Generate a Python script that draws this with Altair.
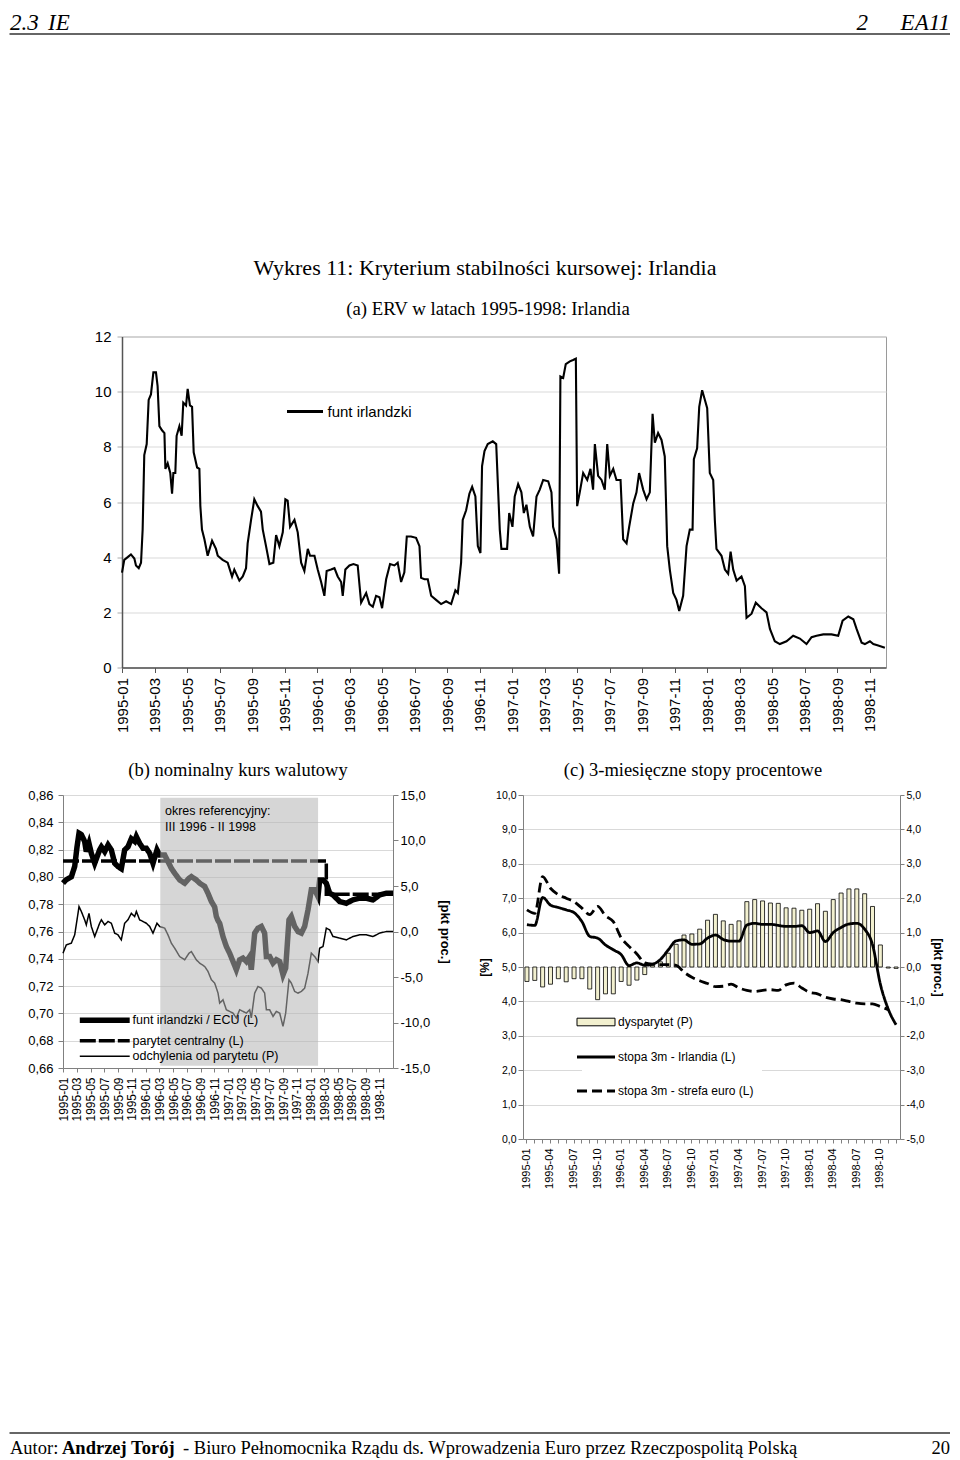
import altair as alt
import pandas as pd

SANS = "Liberation Sans"
NARROW = "'Liberation Sans Narrow', 'Liberation Sans'"
SERIF = "Liberation Serif"
AX = "#808080"
GRID = "#d9d9d9"

# ---------------- page texts ----------------
header_left = ["2.3", "IE"]
header_right = ["2", "EA11"]
main_title = "Wykres 11: Kryterium stabilności kursowej: Irlandia"
title_a = "(a) ERV w latach 1995-1998: Irlandia"
title_b = "(b) nominalny kurs walutowy"
title_c = "(c) 3-miesięczne stopy procentowe"
ref_note = ["okres referencyjny:", "III 1996 - II 1998"]
footer_parts = ["Autor:", "Andrzej Torój",
                "- Biuro Pełnomocnika Rządu ds. Wprowadzenia Euro przez Rzeczpospolitą Polską"]
page_no = "20"

# ---------------- tick labels ----------------
ab_tick_pos = [0, 2, 4, 6, 8, 10, 12, 14, 16, 18, 20, 22, 24, 26, 28, 30, 32, 34, 36, 38, 40, 42, 44, 46]
ab_tick_labels = ["1995-01", "1995-03", "1995-05", "1995-07", "1995-09", "1995-11",
                  "1996-01", "1996-03", "1996-05", "1996-07", "1996-09", "1996-11",
                  "1997-01", "1997-03", "1997-05", "1997-07", "1997-09", "1997-11",
                  "1998-01", "1998-03", "1998-05", "1998-07", "1998-09", "1998-11"]

# ---------------- (a) ERV, funt irlandzki ----------------
erv_t = [0.0, 0.14, 0.35, 0.55, 0.76, 0.86, 1.03, 1.17, 1.27, 1.37,
         1.52, 1.64, 1.78, 1.93, 2.09, 2.19, 2.3, 2.46, 2.61, 2.67,
         2.81, 2.97, 3.08, 3.16, 3.28, 3.36, 3.53, 3.67, 3.77, 3.94,
         4.04, 4.18, 4.31, 4.41, 4.62, 4.76, 4.82, 4.92, 5.07, 5.27,
         5.54, 5.78, 5.89, 6.19, 6.5, 6.77, 6.91, 7.22, 7.43, 7.63,
         7.73, 7.94, 8.14, 8.35, 8.55, 8.66, 8.86, 9.07, 9.31, 9.48,
         9.68, 9.89, 10.05, 10.19, 10.34, 10.61, 10.81, 11.02, 11.22, 11.43,
         11.57, 11.84, 12.04, 12.25, 12.45, 12.59, 12.86, 13.07, 13.27, 13.48,
         13.58, 13.74, 13.99, 14.24, 14.5, 14.71, 15.02, 15.22, 15.43, 15.63,
         15.84, 16.0, 16.25, 16.49, 16.76, 16.96, 17.17, 17.37, 17.52, 17.78,
         18.09, 18.3, 18.4, 18.61, 18.81, 19.02, 19.32, 19.63, 19.94, 20.25,
         20.51, 20.66, 20.86, 20.96, 21.17, 21.37, 21.54, 21.74, 21.89, 22.05,
         22.15, 22.3, 22.5, 22.81, 23.02, 23.24, 23.34, 23.69, 23.82, 24.02,
         24.16, 24.37, 24.57, 24.72, 24.88, 25.09, 25.29, 25.5, 25.7, 25.91,
         26.22, 26.42, 26.52, 26.73, 26.89, 26.97, 27.14, 27.3, 27.55, 27.75,
         27.92, 28.0, 28.16, 28.37, 28.62, 28.82, 28.98, 29.09, 29.29, 29.5,
         29.7, 29.85, 30.01, 30.22, 30.42, 30.67, 30.83, 31.04, 31.2, 31.45,
         31.65, 31.81, 32.06, 32.27, 32.47, 32.64, 32.78, 32.98, 33.19, 33.39,
         33.54, 33.7, 33.91, 34.11, 34.28, 34.52, 34.73, 34.93, 35.1, 35.18,
         35.38, 35.51, 35.69, 35.86, 36.0, 36.16, 36.37, 36.47, 36.57, 36.88,
         37.09, 37.29, 37.44, 37.6, 37.81, 38.11, 38.32, 38.42, 38.73, 38.99,
         39.34, 39.65, 39.86, 40.16, 40.47, 40.88, 41.29, 41.7, 42.11, 42.42,
         42.73, 43.14, 43.65, 44.06, 44.33, 44.68, 44.99, 45.19, 45.5, 45.7,
         46.01, 46.22, 46.52, 46.93]
erv_v = [3.44, 3.9, 4.0, 4.1, 3.95, 3.7, 3.6, 3.8, 5.0, 7.7,
         8.1, 9.7, 9.9, 10.7, 10.7, 10.2, 8.75, 8.6, 8.5, 7.2,
         7.4, 7.05, 6.3, 7.05, 7.05, 8.4, 8.75, 8.4, 9.6, 9.5,
         10.1, 9.5, 9.45, 7.8, 7.25, 7.2, 5.85, 5.0, 4.65, 4.05,
         4.6, 4.3, 4.05, 3.9, 3.8, 3.3, 3.55, 3.15, 3.3, 3.6,
         4.5, 5.35, 6.1, 5.85, 5.65, 5.0, 4.4, 3.75, 3.8, 4.8,
         4.4, 4.9, 6.1, 6.05, 5.1, 5.35, 4.9, 3.8, 3.5, 4.3,
         4.05, 4.05, 3.55, 3.1, 2.6, 3.5, 3.55, 3.6, 3.3, 3.1,
         2.6, 3.55, 3.7, 3.75, 3.7, 2.35, 2.7, 2.3, 2.2, 2.6,
         2.55, 2.15, 3.2, 3.75, 3.7, 3.8, 3.1, 3.45, 4.75, 4.75,
         4.7, 4.4, 3.25, 3.2, 3.2, 2.6, 2.45, 2.3, 2.4, 2.3,
         2.8, 2.7, 3.8, 5.35, 5.7, 6.3, 6.55, 6.2, 4.4, 4.15,
         7.3, 7.85, 8.1, 8.2, 8.1, 5.0, 4.3, 4.3, 5.6, 5.1,
         6.2, 6.65, 6.35, 5.6, 5.9, 5.1, 4.75, 6.2, 6.45, 6.8,
         6.75, 6.35, 5.1, 4.65, 3.4, 10.55, 10.5, 11.0, 11.1, 11.15,
         11.2, 5.85, 6.35, 7.05, 6.8, 7.2, 6.45, 8.1, 6.95, 6.8,
         6.45, 8.1, 6.95, 7.2, 6.8, 6.8, 4.65, 4.5, 5.1, 5.95,
         6.35, 7.05, 6.45, 6.1, 6.35, 9.2, 8.15, 8.5, 8.25, 7.65,
         4.4, 3.55, 2.7, 2.45, 2.05, 2.6, 4.4, 5.0, 5.0, 7.55,
         7.95, 9.45, 10.05, 9.7, 9.4, 7.05, 6.8, 5.35, 4.3, 4.05,
         3.55, 3.4, 4.2, 3.55, 3.15, 3.3, 2.95, 1.8, 1.95, 2.35,
         2.15, 2.0, 1.4, 0.95, 0.85, 0.95, 1.15, 1.05, 0.85, 1.1,
         1.15, 1.2, 1.2, 1.15, 1.7, 1.85, 1.75, 1.4, 0.9, 0.85,
         0.95, 0.85, 0.8, 0.72]

# ---------------- (b) nominal exchange rate ----------------
b_t = [0, 0.48, 1.21, 1.7, 2.04, 2.33, 2.67, 3.15, 3.39, 3.78,
       4.12, 4.61, 5.33, 5.58, 6.06, 6.55, 7.03, 7.52, 8.0, 8.48,
       8.97, 9.45, 9.94, 10.42, 10.67, 11.15, 11.64, 12.12, 12.61, 13.09,
       13.67, 14.06, 14.79, 15.27, 15.76, 16.24, 16.97, 17.7, 18.33, 18.67,
       19.39, 19.88, 20.61, 21.09, 21.58, 22.06, 22.3, 22.55, 22.79, 23.27,
       23.76, 24.24, 24.73, 25.21, 25.7, 26.18, 26.67, 27.15, 27.39, 27.88,
       28.36, 28.85, 29.33, 29.58, 30.06, 30.55, 31.03, 31.52, 32.0, 32.39,
       32.87, 33.21, 33.7, 34.18, 34.67, 35.15, 35.64, 36.12, 36.61, 37.09,
       37.33, 37.82, 38.3, 38.79, 39.27, 40.24, 41.21, 42.18, 43.15, 44.12,
       45.09, 46.06, 47.03, 48.0]
b_rate = [0.7954, 0.798, 0.800, 0.8076, 0.822, 0.832, 0.831, 0.826, 0.8185, 0.8246,
          0.8173, 0.810, 0.8198, 0.822, 0.8185, 0.8234, 0.8198, 0.810, 0.8076, 0.806,
          0.8198, 0.822, 0.828, 0.826, 0.8295, 0.8246, 0.821, 0.821, 0.8173, 0.810,
          0.8198, 0.816, 0.816, 0.8112, 0.8063, 0.8027, 0.7978, 0.7954, 0.799, 0.8002,
          0.7978, 0.7954, 0.793, 0.788, 0.782, 0.778, 0.771, 0.768, 0.766, 0.7563,
          0.749, 0.7441, 0.738, 0.732, 0.7393, 0.7405, 0.738, 0.7417, 0.732, 0.7588,
          0.7624, 0.7637, 0.7588, 0.7417, 0.7417, 0.7368, 0.7393, 0.738, 0.7283, 0.7332,
          0.7685, 0.771, 0.7637, 0.760, 0.7588, 0.7637, 0.7759, 0.7905, 0.7905, 0.7856,
          0.7978, 0.7978, 0.7954, 0.788, 0.7868, 0.782, 0.7807, 0.7832, 0.7844, 0.7844,
          0.7832, 0.7868, 0.788, 0.788]
b_dev = [-2.38, -1.47, -1.28, -0.37, 1.28, 2.74, 2.2, 1.28, 0.73, 2.0,
         0.55, -0.55, 0.91, 1.28, 0.73, 1.1, 0.91, -0.18, -0.37, -0.92,
         0.91, 1.28, 2.0, 1.64, 2.2, 1.28, 1.1, 0.91, 0.55, -0.18,
         0.91, 0.55, 0.37, -0.37, -1.28, -1.83, -2.75, -3.11, -2.38, -2.2,
         -3.11, -3.48, -3.84, -4.39, -5.3, -5.67, -6.2, -6.77, -7.87, -7.5,
         -8.6, -8.78, -8.97, -9.5, -8.6, -8.78, -8.97, -8.6, -9.5, -6.77,
         -6.04, -6.22, -6.77, -8.6, -8.6, -9.33, -8.78, -8.97, -10.43, -8.97,
         -5.3, -5.67, -6.59, -6.77, -6.59, -6.22, -4.58, -2.38, -2.75, -3.3,
         -1.83, -1.65, 0.37, 0.18, -0.55, -0.73, -0.92, -0.55, -0.37, -0.37,
         -0.55, -0.18, 0.0, 0.0]
parity_t = [0, 38.3, 38.3, 48]
parity_v = [0.8117, 0.8117, 0.7873, 0.7873]
ref_period = [14.15, 37.1]
b_series = ["funt irlandzki / ECU (L)", "parytet centralny (L)", "odchylenia od parytetu (P)"]

# ---------------- (c) 3-month interest rates ----------------
c_months = ["1995-01", "1995-02", "1995-03", "1995-04", "1995-05", "1995-06",
            "1995-07", "1995-08", "1995-09", "1995-10", "1995-11", "1995-12",
            "1996-01", "1996-02", "1996-03", "1996-04", "1996-05", "1996-06",
            "1996-07", "1996-08", "1996-09", "1996-10", "1996-11", "1996-12",
            "1997-01", "1997-02", "1997-03", "1997-04", "1997-05", "1997-06",
            "1997-07", "1997-08", "1997-09", "1997-10", "1997-11", "1997-12",
            "1998-01", "1998-02", "1998-03", "1998-04", "1998-05", "1998-06",
            "1998-07", "1998-08", "1998-09", "1998-10", "1998-11", "1998-12"]
c_tick_labels = ["1995-01", "1995-04", "1995-07", "1995-10", "1996-01", "1996-04",
                 "1996-07", "1996-10", "1997-01", "1997-04", "1997-07", "1997-10",
                 "1998-01", "1998-04", "1998-07", "1998-10"]
c_disparity = [-0.42, -0.39, -0.58, -0.5, -0.34, -0.43, -0.34, -0.34, -0.64, -0.95,
               -0.78, -0.78, -0.42, -0.53, -0.38, -0.22, 0.08, 0.15, 0.4, 0.66,
               0.93, 0.96, 1.1, 1.36, 1.53, 1.34, 1.24, 1.34, 1.9, 1.96,
               1.92, 1.86, 1.85, 1.72, 1.71, 1.65, 1.68, 1.84, 1.62, 1.96,
               2.15, 2.27, 2.27, 2.13, 1.76, 0.64, -0.03, -0.04]
c_irl = [6.23, 6.21, 7.02, 6.8, 6.73, 6.66, 6.58, 6.32, 5.89, 5.84,
         5.64, 5.5, 5.36, 5.04, 5.12, 5.05, 5.08, 5.22, 5.5, 5.76,
         5.79, 5.66, 5.67, 5.84, 5.93, 5.8, 5.75, 5.75, 6.22, 6.27,
         6.24, 6.24, 6.21, 6.18, 6.18, 6.2, 6.0, 6.05, 5.74, 6.0,
         6.15, 6.25, 6.27, 6.1, 5.65, 4.5, 3.78, 3.32]
c_euro = [6.66, 6.56, 7.63, 7.29, 7.1, 7.0, 6.9, 6.71, 6.52, 6.76,
          6.49, 6.32, 5.85, 5.6, 5.38, 5.12, 5.08, 5.07, 5.07, 5.05,
          4.85, 4.7, 4.6, 4.52, 4.43, 4.44, 4.5, 4.39, 4.32, 4.29,
          4.32, 4.34, 4.32, 4.48, 4.53, 4.39, 4.26, 4.22, 4.12, 4.07,
          4.05, 4.0, 3.95, 3.93, 3.93, 3.85, 3.76]
c_bar_series = ["dysparytet (P)"]
c_line_series = ["stopa 3m - Irlandia (L)", "stopa 3m - strefa euro (L)"]

# ---------------- helpers ----------------
def txt(s, x, y, size, font=SERIF, align="left", baseline="alphabetic",
        weight="normal", style="normal"):
    return alt.Chart(pd.DataFrame({"label": [s]})).mark_text(
        align=align, baseline=baseline, font=font, fontSize=size,
        fontWeight=weight, fontStyle=style, color="black"
    ).encode(x=alt.value(x), y=alt.value(y), text="label:N")


def hrule(x1, x2, y, width=1.4, color="#333333"):
    return alt.Chart(pd.DataFrame({"k": [0]})).mark_rule(
        color=color, strokeWidth=width
    ).encode(x=alt.value(x1), x2=alt.value(x2), y=alt.value(y))


lab_expr_ab = "[" + ",".join("'%s'" % l for l in ab_tick_labels) + "][round(datum.value / 2)]"
fmt1 = "(datum.value < 0 ? '-' : '') + replace(format(abs(datum.value), '.1f'), '.', ',')"
fmt2 = "replace(format(datum.value, '.2f'), '.', ',')"
RES = dict(color="independent", strokeDash="independent", strokeWidth="independent",
           fill="independent")

# ================= header row (origin = left edge of panel b) =================
header = alt.layer(
    txt(header_left[0], -53, 21, 23, style="italic"),
    txt(header_left[1], -15, 21, 23, style="italic"),
    txt(header_right[0], 805, 21, 23, style="italic", align="right"),
    txt(header_right[1], 887, 21, 23, style="italic", align="right"),
    hrule(-53.5, 887, 25),
).properties(width=887, height=199.5)

# ================= chart (a) =================
A_W, A_H = 764, 331
a_series = ["funt irlandzki"]
dfA = pd.DataFrame({"t": erv_t, "v": erv_v, "s": a_series[0]})
lineA = alt.Chart(dfA).mark_line(strokeWidth=2.1).encode(
    x=alt.X("t:Q", scale=alt.Scale(domain=[0, 47], nice=False, zero=False),
            axis=alt.Axis(values=ab_tick_pos, labelExpr=lab_expr_ab, labelAngle=-90,
                          labelFont=SANS, labelFontSize=15, labelColor="black",
                          labelPadding=5, tickSize=5, tickColor="#555555",
                          domainColor="#555555", domainWidth=1.5, grid=False,
                          title=None, labelOverlap=False, labelFlush=False)),
    y=alt.Y("v:Q", scale=alt.Scale(domain=[0, 12], nice=False, zero=False),
            axis=alt.Axis(values=[0, 2, 4, 6, 8, 10, 12], labelFont=SANS, labelFontSize=15,
                          labelColor="black", labelPadding=6, tickSize=5,
                          tickColor="#aaaaaa", domainColor="#555555", domainWidth=1.5,
                          grid=True, gridColor=GRID, title=None)),
    color=alt.Color("s:N", scale=alt.Scale(domain=a_series, range=["black"]),
                    legend=alt.Legend(title=None, orient="none", legendX=163.5, legendY=55.5,
                                      symbolType="stroke", symbolSize=1296,
                                      symbolStrokeWidth=3, labelFont=SANS,
                                      labelFontSize=15, labelColor="black",
                                      labelOffset=3, padding=0)),
)
chartA = alt.layer(
    lineA,
    txt(main_title, 363, -62, 22, align="center"),
    txt(title_a, 366, -22, 18.8, align="center"),
    hrule(300, 301, -100, color="white"),
    hrule(-50, -49, 100, color="white"),
    hrule(300, 301, 396, color="white"),
).properties(width=A_W, height=A_H,
             view=alt.ViewBackground(stroke="#9a9a9a", strokeWidth=1))

pad = alt.Chart(pd.DataFrame({"k": [0]})).mark_rule(color="white").encode(
    x=alt.value(0), x2=alt.value(1), y=alt.value(0)
).properties(width=1, height=1)

# ================= chart (b) =================
B_W, B_H = 330, 273
dfRate = pd.DataFrame({"t": b_t, "v": b_rate, "s": b_series[0]})
dfPar = pd.DataFrame({"t": parity_t, "v": parity_v, "s": b_series[1]})
dfDev = pd.DataFrame({"t": b_t, "d": b_dev, "s": b_series[2]})
dfRef = pd.DataFrame({"x1": [ref_period[0]], "x2": [ref_period[1]],
                      "y1": [0.6617], "y2": [0.858]})

xB_scale = alt.Scale(domain=[0, 48], nice=False, zero=False)
yB_scale = alt.Scale(domain=[0.66, 0.86], nice=False, zero=False)
xB_axis = alt.Axis(values=ab_tick_pos, labelExpr=lab_expr_ab, labelAngle=-90,
                   labelFont=SANS, labelFontSize=12, labelColor="black",
                   labelPadding=5, tickSize=4, tickColor=AX, domainColor=AX,
                   grid=False, title=None, labelOverlap=False, labelFlush=False)
b_legend = alt.Legend(title=None, orient="none", legendX=35.5, legendY=219,
                      symbolType="M-7.7,0H7.7", symbolSize=42, labelFont=SANS,
                      labelFontSize=12.5, labelColor="black", labelOffset=21.5,
                      rowPadding=1.5, padding=0)
b_color = alt.Color("s:N", scale=alt.Scale(domain=b_series, range=["black", "black", "black"]),
                    legend=b_legend)
b_dash = alt.StrokeDash("s:N", scale=alt.Scale(domain=b_series, range=[[1, 0], [16, 3], [1, 0]]),
                        legend=b_legend)
b_width = alt.StrokeWidth("s:N", scale=alt.Scale(domain=b_series, range=[5.5, 1.5, 1.5]),
                          legend=b_legend)

parB = alt.Chart(dfPar).mark_line().encode(
    x=alt.X("t:Q", scale=xB_scale, axis=xB_axis),
    y=alt.Y("v:Q", scale=yB_scale, axis=None),
    color=b_color, strokeDash=b_dash, strokeWidth=b_width,
)
rateB = alt.Chart(dfRate).mark_line().encode(
    x=alt.X("t:Q", scale=xB_scale, axis=xB_axis),
    y=alt.Y("v:Q", scale=yB_scale,
            axis=alt.Axis(orient="left",
                          values=[0.66, 0.68, 0.70, 0.72, 0.74, 0.76, 0.78, 0.80, 0.82, 0.84, 0.86],
                          labelExpr=fmt2, labelFont=SANS, labelFontSize=13, labelColor="black",
                          labelPadding=5, tickSize=5, tickColor=AX, domainColor=AX,
                          grid=True, gridColor=GRID, title=None)),
    color=b_color, strokeDash=b_dash, strokeWidth=b_width,
)
devB = alt.Chart(dfDev).mark_line().encode(
    x=alt.X("t:Q", scale=xB_scale, axis=xB_axis),
    y=alt.Y("d:Q", scale=alt.Scale(domain=[-15, 15], nice=False, zero=False),
            axis=alt.Axis(orient="right", values=[-15, -10, -5, 0, 5, 10, 15],
                          labelExpr=fmt1, labelFont=SANS, labelFontSize=13, labelColor="black",
                          labelPadding=2, tickSize=5, tickColor=AX, domainColor=AX,
                          grid=False, title="[pkt proc.]", titleFont=SANS, titleFontSize=13,
                          titleFontWeight="bold", titleColor="black", titlePadding=8)),
    color=b_color, strokeDash=b_dash, strokeWidth=b_width,
)
rectB = alt.Chart(dfRef).mark_rect(color="#b4b4b4", opacity=0.55).encode(
    x=alt.X("x1:Q", scale=xB_scale, axis=xB_axis), x2="x2:Q",
    y=alt.Y("y1:Q", scale=yB_scale, axis=None),
    y2="y2:Q",
)
chartB = alt.layer(
    rateB, parB, devB, rectB,
    txt(ref_note[0], 102, 20, 12.5, font=SANS),
    txt(ref_note[1], 102, 36, 12.5, font=SANS),
    txt(title_b, 175, -19, 18.5, align="center"),
).resolve_scale(y="independent").properties(width=B_W, height=B_H)

# ================= chart (c) =================
C_W, C_H = 377, 344
dfCbar = pd.DataFrame({"month": c_months, "disp": c_disparity, "sb": c_bar_series[0]})
dfCl = pd.concat([
    pd.DataFrame({"month": c_months, "rate": c_irl, "sl": c_line_series[0]}),
    pd.DataFrame({"month": c_months[:len(c_euro)], "rate": c_euro, "sl": c_line_series[1]}),
])
c_lab_expr = "indexof([" + ",".join("'%s'" % l for l in c_tick_labels) + "], datum.value) >= 0 ? datum.value : ''"
xC = alt.X("month:N", sort=c_months,
           scale=alt.Scale(domain=c_months, paddingInner=0, paddingOuter=0),
           axis=alt.Axis(labelExpr=c_lab_expr, labelAngle=-90, labelFont=SANS,
                         labelFontSize=11, labelColor="black", labelPadding=5, tickSize=4,
                         tickColor=AX, domainColor=AX, grid=False, title=None,
                         labelOverlap=False))
barsC = alt.Chart(dfCbar).mark_bar(size=4, stroke="black", strokeWidth=0.8).encode(
    x=xC,
    y=alt.Y("disp:Q", scale=alt.Scale(domain=[-5, 5], nice=False, zero=False),
            axis=alt.Axis(orient="right", values=[-5, -4, -3, -2, -1, 0, 1, 2, 3, 4, 5],
                          labelExpr=fmt1, labelFont=SANS, labelFontSize=10.5,
                          labelColor="black", labelPadding=2, tickSize=4, tickColor=AX,
                          domainColor=AX, grid=False, title="[pkt proc.]", titleFont=SANS,
                          titleFontSize=12, titleFontWeight="bold", titleColor="black",
                          titlePadding=6)),
    fill=alt.Fill("sb:N", scale=alt.Scale(domain=c_bar_series, range=["#f2f0cf"]),
                  legend=alt.Legend(title=None, orient="none", legendX=59, legendY=213,
                                    symbolType="M-5,-1H5V1H-5Z", symbolSize=57.76,
                                    symbolStrokeColor="black", symbolStrokeWidth=1,
                                    labelFont=NARROW, labelFontSize=12, labelColor="black",
                                    labelOffset=16, padding=8, fillColor="white")),
)
linesC = alt.Chart(dfCl).mark_line(strokeWidth=2.8, color="black", interpolate="monotone").encode(
    x=xC,
    y=alt.Y("rate:Q", scale=alt.Scale(domain=[0, 10], nice=False, zero=False),
            axis=alt.Axis(orient="left", values=[0, 1, 2, 3, 4, 5, 6, 7, 8, 9, 10],
                          labelExpr=fmt1, labelFont=SANS, labelFontSize=10.5,
                          labelColor="black", labelPadding=2, tickSize=5, tickColor=AX,
                          domainColor=AX, grid=True, gridColor=GRID, title="[%]",
                          titleFont=SANS, titleFontSize=12, titleFontWeight="bold",
                          titleColor="black", titlePadding=4)),
    strokeDash=alt.StrokeDash("sl:N", scale=alt.Scale(domain=c_line_series, range=[[1, 0], [10, 5]]),
                              legend=alt.Legend(title=None, orient="none", legendX=59, legendY=248,
                                                symbolType="M-5,0H5", symbolSize=57.76,
                                                symbolStrokeWidth=3, symbolStrokeColor="black",
                                                labelFont=NARROW, labelFontSize=12,
                                                labelColor="black", labelOffset=16,
                                                rowPadding=22, padding=8, fillColor="white")),
)
chartC = alt.layer(
    barsC, linesC,
    txt(title_c, 170, -19, 18.5, align="center"),
).resolve_scale(y="independent").properties(width=C_W, height=C_H)

# ================= footer (origin = left edge of panel b) =================
footer = alt.layer(
    hrule(-53.5, 887, 217.5),
    txt(footer_parts[0], -53, 238.5, 18.5),
    txt(footer_parts[1], -1, 238.5, 18.5, weight="bold"),
    txt(footer_parts[2], 120, 238.5, 18.5),
    txt(page_no, 887, 238.5, 18.5, align="right"),
).properties(width=887, height=240)

row1 = alt.hconcat(pad, chartA, spacing=5).resolve_scale(**RES).resolve_legend(**RES)
row2 = alt.hconcat(chartB, chartC, spacing=26).resolve_scale(**RES).resolve_legend(**RES)
chart = alt.vconcat(header, row1, row2, footer, spacing=25.5).properties(padding=0)
chart = chart.resolve_scale(**RES).resolve_legend(**RES)
chart = chart.configure_view(stroke="transparent")

chart.save("out.html", embed_options={"renderer": "svg", "actions": False})
